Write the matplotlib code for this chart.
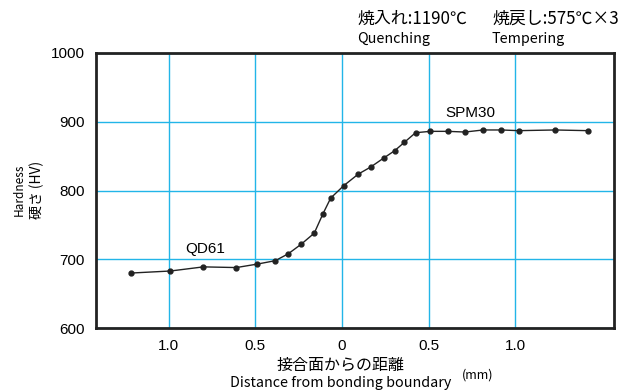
import numpy as np
import matplotlib.pyplot as plt

plt.rcParams['font.family'] = ['Liberation Sans', 'Noto Sans CJK JP', 'DejaVu Sans']
jp = ['Noto Sans CJK JP', 'DejaVu Sans']

# distance from bonding boundary (mm); negative = QD61 side
dist = [-1.22, -0.99, -0.80, -0.61, -0.49, -0.385, -0.31, -0.235, -0.16, -0.11,
        -0.065, 0.01, 0.095, 0.165, 0.24, 0.305, 0.36, 0.425, 0.51, 0.61,
        0.71, 0.815, 0.92, 1.02, 1.23, 1.42]
hardness = [680, 683, 689, 688, 693, 698, 708, 722, 738, 766,
            789, 807, 824, 834, 847, 858, 870, 884, 886, 886,
            885, 888, 888, 887, 888, 887]

xticks = [-1.0, -0.5, 0, 0.5, 1.0]
xtick_labels = ['1.0', '0.5', '0', '0.5', '1.0']
yticks = [600, 700, 800, 900, 1000]

fig = plt.figure(figsize=(6.29, 3.92), dpi=100)
ax = fig.add_axes([0.1526, 0.163, 0.8234, 0.702])

ax.plot(dist, hardness, color='#222222', lw=1.0, marker='o', ms=3.5, zorder=3)

ax.set_xlim(-1.42, 1.57)
ax.set_ylim(600, 1000)
ax.set_xticks(xticks)
ax.set_xticklabels(xtick_labels, fontsize=11)
ax.set_yticks(yticks)
ax.set_yticklabels([str(v) for v in yticks], fontsize=11)
ax.tick_params(length=0, pad=8)
ax.grid(True, color='#22b5e8', lw=1.0)
for s in ax.spines.values():
    s.set_linewidth(2)
    s.set_color('#222222')

ax.text(-0.79, 715, 'QD61', fontsize=11, ha='center', va='center')
ax.text(0.743, 912, 'SPM30', fontsize=11, ha='center', va='center')

fig.text(357/629, 1 - 19/392, '焼入れ:1190℃', fontsize=12.2, va='center', family=jp)
fig.text(357/629, 1 - 39/392, 'Quenching', fontsize=10.3, va='center', family=jp)
fig.text(492/629, 1 - 19/392, '焼戻し:575℃×3', fontsize=12.2, va='center', family=jp)
fig.text(492/629, 1 - 39/392, 'Tempering', fontsize=10.3, va='center', family=jp)

fig.text(19/629, 1 - 190/392, 'Hardness', fontsize=8.5, rotation=90, ha='center', va='center', family=jp)
fig.text(37/629, 1 - 190/392, '硬さ (HV)', fontsize=10, rotation=90, ha='center', va='center', family=jp)

fig.text(341/629, 1 - 365/392, '接合面からの距離', fontsize=11.5, ha='center', va='center', family=jp)
fig.text(341/629, 1 - 383/392, 'Distance from bonding boundary', fontsize=10.3, ha='center', va='center', family=jp)
fig.text(478/629, 1 - 375/392, '(mm)', fontsize=9, ha='center', va='center', family=jp)

fig.savefig('out.png', dpi=100)
